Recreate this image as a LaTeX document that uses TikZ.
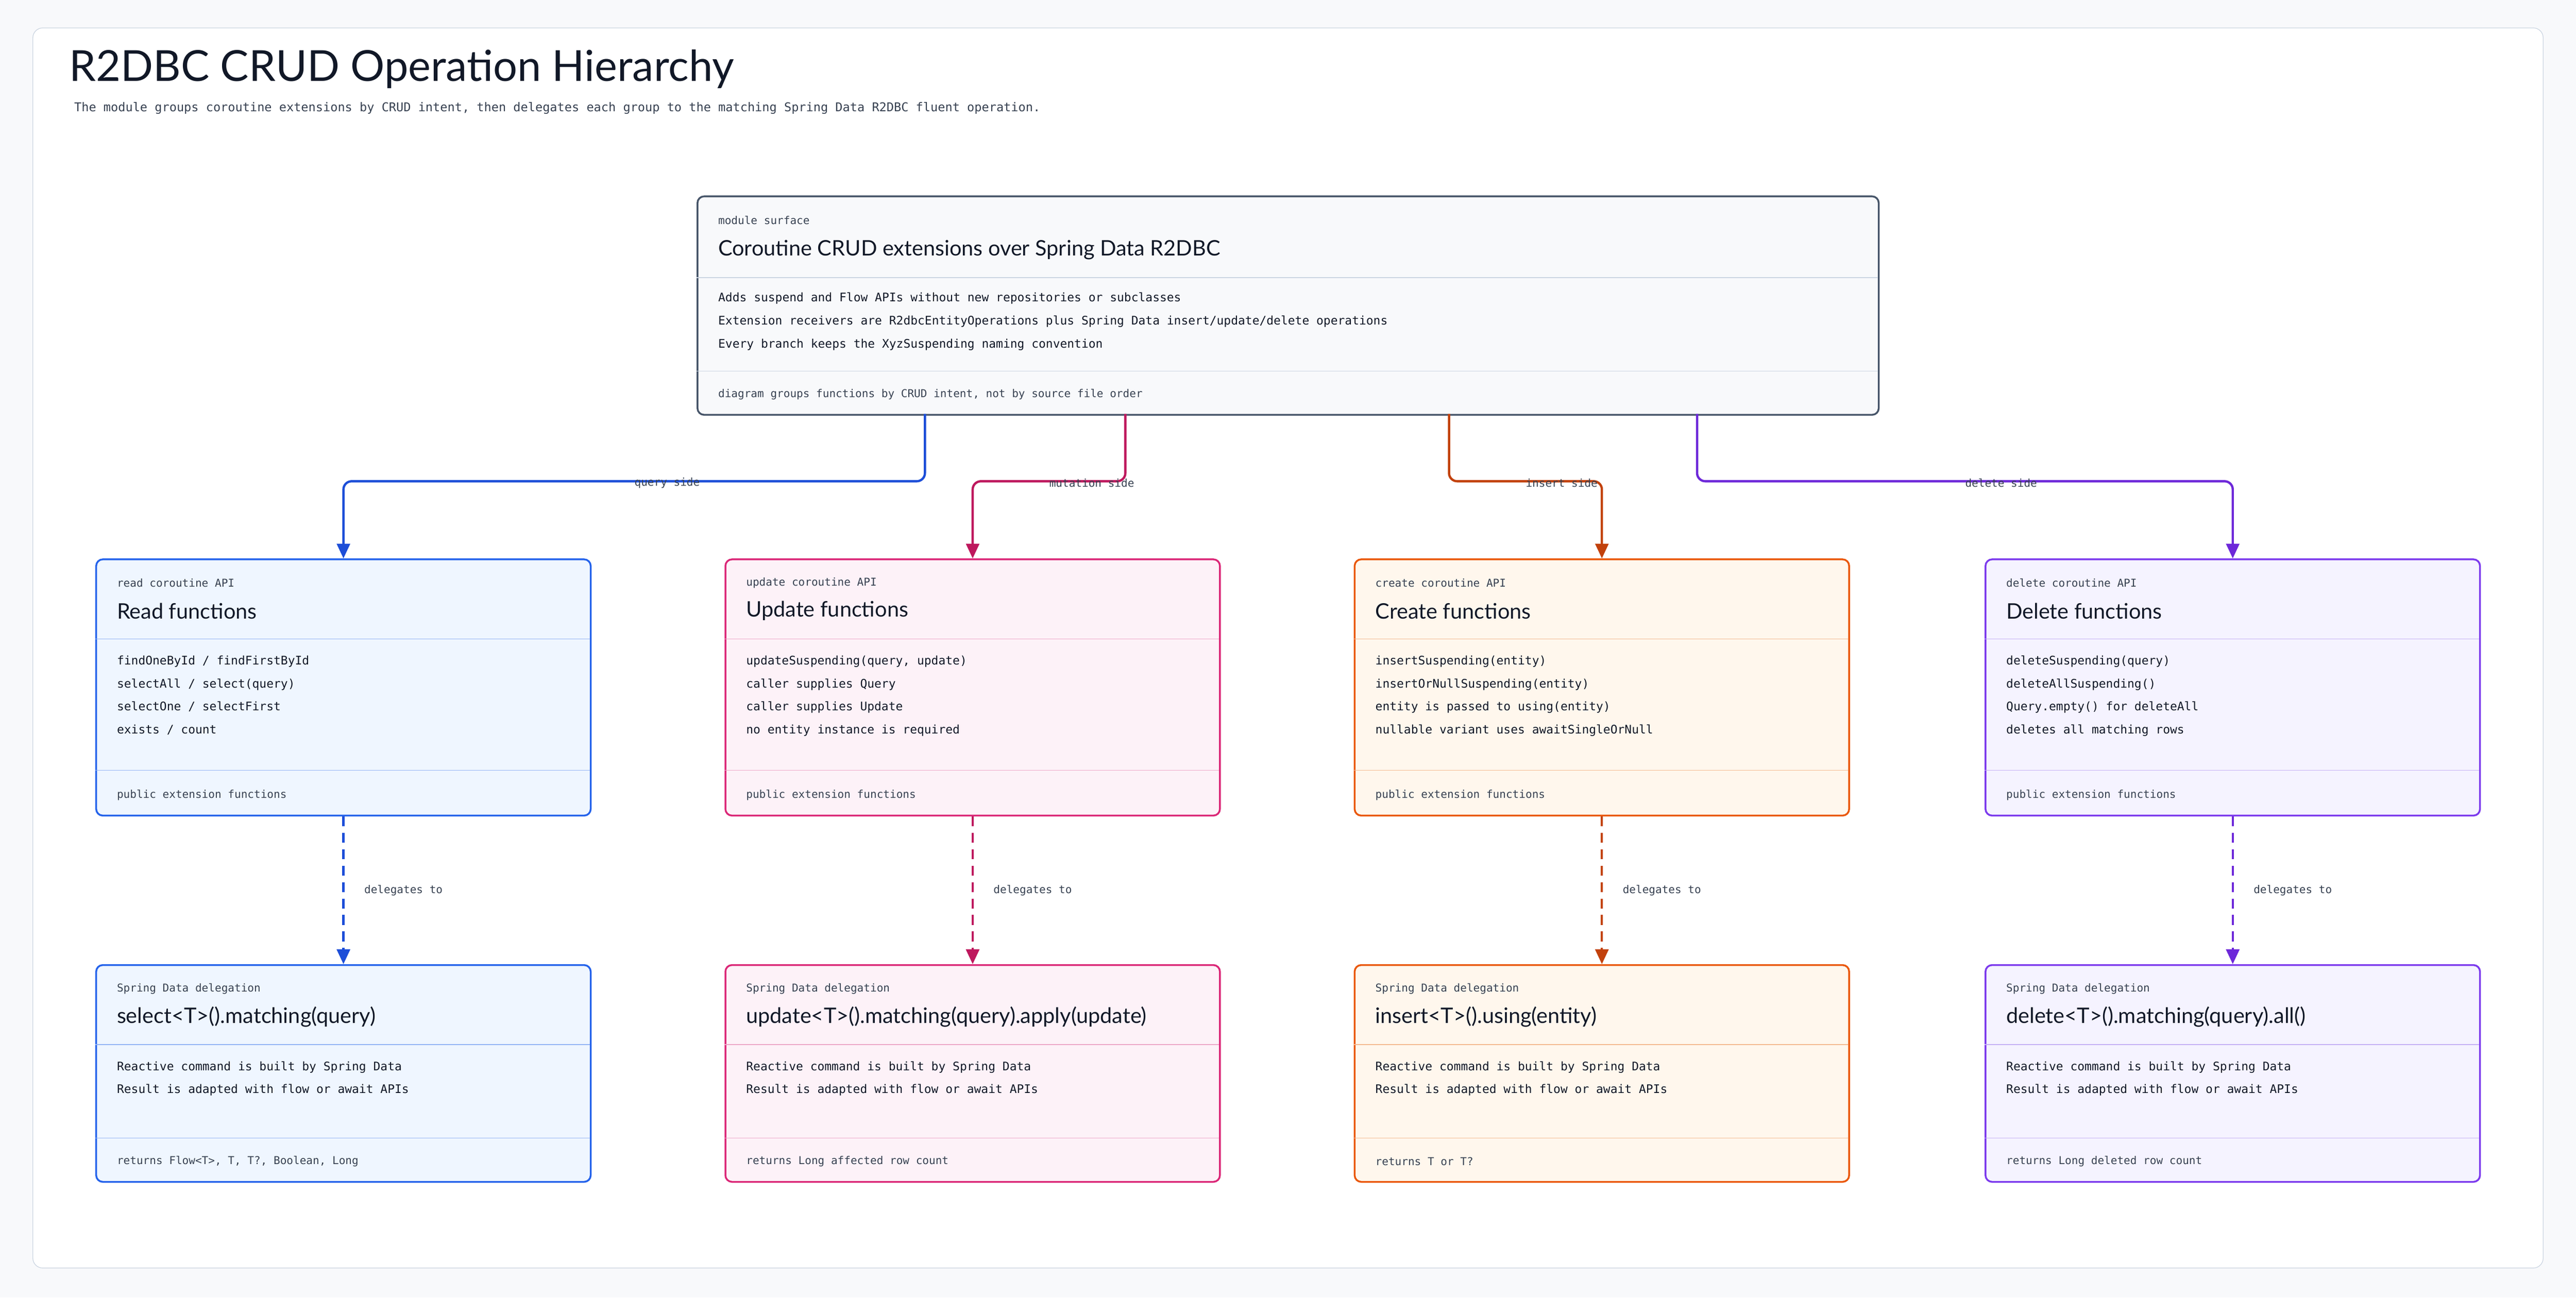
\documentclass[tikz,border=0pt]{standalone}
\usepackage{fontspec}
\setmainfont{Lato}
\setmonofont{DejaVu Sans Mono}
\usetikzlibrary{arrows.meta}

\definecolor{pageBg}{HTML}{F8F9FB}
\definecolor{frameLine}{HTML}{CBD5E1}
\definecolor{ink}{HTML}{111827}
\definecolor{muted}{HTML}{374151}
\definecolor{topB}{HTML}{475569}
\definecolor{topF}{HTML}{F8F9FB}
\definecolor{topL}{HTML}{CBD5E1}
\definecolor{rdA}{HTML}{1D4ED8}
\definecolor{rdB}{HTML}{2563EB}
\definecolor{rdF}{HTML}{EFF6FF}
\definecolor{rdL}{HTML}{93B4F5}
\definecolor{upA}{HTML}{BE185D}
\definecolor{upB}{HTML}{DB2777}
\definecolor{upF}{HTML}{FDF2F8}
\definecolor{upL}{HTML}{EDA7C8}
\definecolor{crA}{HTML}{C2410C}
\definecolor{crB}{HTML}{EA580C}
\definecolor{crF}{HTML}{FFF7ED}
\definecolor{crL}{HTML}{F4B990}
\definecolor{dlA}{HTML}{6D28D9}
\definecolor{dlB}{HTML}{7C3AED}
\definecolor{dlF}{HTML}{F5F3FF}
\definecolor{dlL}{HTML}{C4B0F5}

\tikzset{
  box/.style={draw=#1B, fill=#1F, line width=1.1pt, rounded corners=4pt, anchor=north west, inner sep=0pt},
  small/.style={anchor=west, inner sep=0pt, text=muted, font=\ttfamily\fontsize{6.6}{8}\selectfont},
  head/.style={anchor=west, inner sep=0pt, text=ink, font=\fontsize{13}{15}\selectfont},
  body/.style={anchor=north west, inner sep=0pt, align=left, text=ink, font=\ttfamily\fontsize{7.2}{14}\selectfont},
  conn/.style={draw=#1A, line width=1.4pt, rounded corners=5pt, -{Triangle[length=9pt,width=8pt]}},
  deleg/.style={conn=#1, rounded corners=0pt, dash pattern=on 6pt off 4pt}
}

\begin{document}
\begin{tikzpicture}[x=1pt, y=-1pt]
    % page
    \fill[pageBg] (0,0) rectangle (1568,790);
    \useasboundingbox (0,0) rectangle (1568,790);
    \draw[frameLine, fill=white, rounded corners=6pt] (20,17) rectangle (1548,772);

    % title
    \node[anchor=west, inner sep=0pt, text=ink, font=\fontsize{26}{30}\selectfont] (title) at (42,42) {R2DBC CRUD Operation Hierarchy};
    \node[small, text=muted, font=\ttfamily\fontsize{7.4}{9}\selectfont] (subtitle) at (45,66) {The module groups coroutine extensions by CRUD intent, then delegates each group to the matching Spring Data R2DBC fluent operation.};

    % module surface
    \node[box=top, minimum width=719, minimum height=133] (top) at (424,119) {};
    \draw[topL] (424,169) -- (1143,169);
    \draw[topL] (424,226) -- (1143,226);
    \node[small] at (437,134) {module surface};
    \node[head] at (437,152) {Coroutine CRUD extensions over Spring Data R2DBC};
    \node[body] at (437,178) {Adds suspend and Flow APIs without new repositories or subclasses\\Extension receivers are R2dbcEntityOperations plus Spring Data insert/update/delete operations\\Every branch keeps the XyzSuspending naming convention};
    \node[small] at (437,240) {diagram groups functions by CRUD intent, not by source file order};

    % coroutine API row
    \foreach \n/\x/\c/\s/\t/\b in {
        1/58/rd/read/Read/{findOneById / findFirstById\\selectAll / select(query)\\selectOne / selectFirst\\exists / count},
        2/441/up/update/Update/{updateSuspending(query, update)\\caller supplies Query\\caller supplies Update\\no entity instance is required},
        3/824/cr/create/Create/{insertSuspending(entity)\\insertOrNullSuspending(entity)\\entity is passed to using(entity)\\nullable variant uses awaitSingleOrNull},
        4/1208/dl/delete/Delete/{deleteSuspending(query)\\deleteAllSuspending()\\Query.empty() for deleteAll\\deletes all matching rows}} {
        \node[box=\c, minimum width=301, minimum height=156] (api\n) at (\x,340) {};
        \draw[\c L] (\x,389) -- ++(301,0);
        \draw[\c L] (\x,469) -- ++(301,0);
        \node[small] at (\x+13,355) {\s\ coroutine API};
        \node[head] at (\x+13,372) {\t\ functions};
        \node[body] at (\x+13,399) {\b};
        \node[small] at (\x+13,484) {public extension functions};
    }

    % Spring Data row
    \foreach \n/\x/\c/\t/\f in {
        1/58/rd/{select<T>().matching(query)}/{returns Flow<T>, T, T?, Boolean, Long},
        2/441/up/{update<T>().matching(query).apply(update)}/{returns Long affected row count},
        3/824/cr/{insert<T>().using(entity)}/{returns T or T?},
        4/1208/dl/{delete<T>().matching(query).all()}/{returns Long deleted row count}} {
        \node[box=\c, minimum width=301, minimum height=132] (sd\n) at (\x,587) {};
        \draw[\c L] (\x,636) -- ++(301,0);
        \draw[\c L] (\x,693) -- ++(301,0);
        \node[small] at (\x+13,602) {Spring Data delegation};
        \node[head] at (\x+13,619) {\t};
        \node[body] at (\x+13,646) {Reactive command is built by Spring Data\\Result is adapted with flow or await APIs};
        \node[small] at (\x+13,707) {\f};
        \draw[deleg=\c] (api\n.south) -- (sd\n.north) node[small, pos=0.5, xshift=12pt] {delegates to};
    }

    % branches
    \foreach \n/\sx/\c/\l in {1/563/rd/query side, 2/685/up/mutation side, 3/882/cr/insert side, 4/1033/dl/delete side} {
        \coordinate (out\n) at (\sx,252);
        \draw[conn=\c] (out\n) -- ++(0,41) -| (api\n.north);
        \path (out\n) ++(0,28) -- (api\n.north |- out\n) node[pos=0.5, yshift=-28pt, anchor=center, small] {\l};
    }
\end{tikzpicture}
\end{document}
